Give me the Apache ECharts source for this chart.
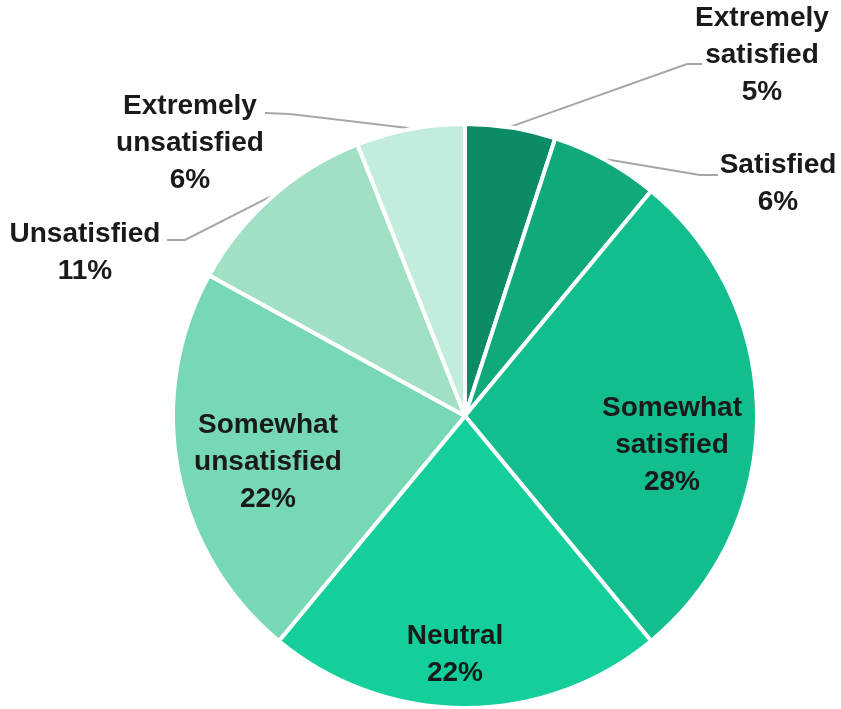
<!DOCTYPE html>
<html>
<head>
<meta charset="utf-8">
<script src="https://cdn.jsdelivr.net/npm/echarts@6/dist/echarts.min.js"></script>
<style>
html, body { margin: 0; padding: 0; background: #fff; }
#chart { width: 841px; height: 709px; }
</style>
</head>
<body>
<div id="chart"></div>
<script>
// slices clockwise from 12 o'clock
var categories = ['Extremely\nsatisfied', 'Satisfied', 'Somewhat\nsatisfied', 'Neutral', 'Somewhat\nunsatisfied', 'Unsatisfied', 'Extremely\nunsatisfied'];
var percents = [5, 6, 28, 22, 22, 11, 6];
var colors = ['#0b8c66', '#0fa97c', '#12bd8e', '#14cf9b', '#76d9b3', '#a1e0c5', '#c2ecdb'];

// label placement (styling only)
var labelPos = [
	{x: 762, y: 55},
	{x: 778, y: 184},
	{x: 672, y: 445},
	{x: 455, y: 655},
	{x: 268, y: 462},
	{x: 85, y: 253},
	{x: 190, y: 143}
];
// leader line elbow + end next to the label text, null = no leader
var leaderEnds = [
	[[687, 64], [702, 64]],
	[[700, 175], [718, 175]],
	null,
	null,
	null,
	[[185, 240], [167, 240]],
	[[290, 114], [265, 113]]
];

var CX = 465, CY = 416, R = 292;

var myChart = echarts.init(document.getElementById('chart'));

var total = 0;
percents.forEach(function(v) { total += v; });

var seriesData = [];
for (var i = 0; i < percents.length; i++) {
	seriesData.push({
		name: categories[i],
		value: percents[i],
		itemStyle: {color: colors[i]},
		label: {position: leaderEnds[i] ? 'outside' : 'inside'},
		labelLine: {show: !!leaderEnds[i]}
	});
}

// point on the rim in the middle of slice idx
function rimPoint(idx) {
	var before = 0;
	for (var k = 0; k < idx; k++) before += percents[k];
	var frac = (before + percents[idx] / 2) / total;
	var a = Math.PI / 2 - frac * Math.PI * 2;
	return [CX + (R + 1) * Math.cos(a), CY - (R + 1) * Math.sin(a)];
}

var option = {
	animation: false,
	series: [
		{
			type: 'pie',
			center: [CX, CY],
			radius: R,
			startAngle: 90,
			clockwise: true,
			data: seriesData,
			itemStyle: {borderColor: '#fff', borderWidth: 4},
			label: {
				show: true,
				formatter: function(p) { return p.name + '\n' + p.value + '%'; },
				fontFamily: 'Liberation Sans',
				fontWeight: 'bold',
				fontSize: 28,
				lineHeight: 37,
				color: '#1a1a1a',
				align: 'center'
			},
			labelLine: {
				length: 20,
				length2: 15,
				lineStyle: {color: '#a6a6a6', width: 2}
			},
			labelLayout: function(params) {
				var idx = params.dataIndex;
				var p = labelPos[idx];
				var out = {x: p.x, y: p.y, align: 'center', verticalAlign: 'middle'};
				if (leaderEnds[idx]) {
					out.labelLinePoints = [rimPoint(idx), leaderEnds[idx][0], leaderEnds[idx][1]];
				}
				return out;
			}
		}
	]
};
myChart.setOption(option);
</script>
</body>
</html>
